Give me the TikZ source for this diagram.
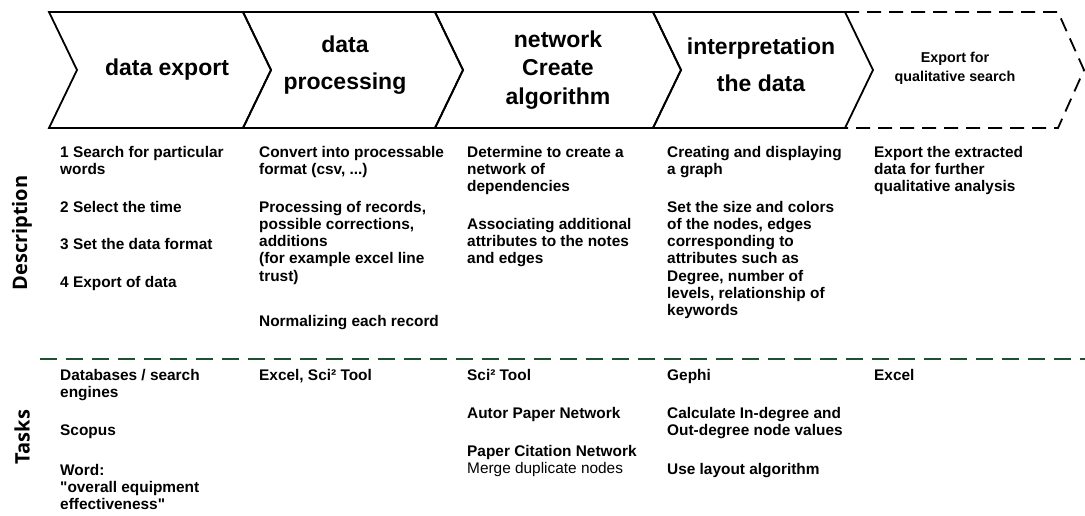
\documentclass[tikz,border=0pt]{standalone}
\usepackage{fontspec}
\setmainfont{Liberation Sans}[Ligatures=TeXOff]
\newfontfamily\sidefont{Open Sans}
\definecolor{sepgreen}{RGB}{30, 80, 50}
\usetikzlibrary{calc}
\tikzset{
    chevline/.style={line width=1.8pt, line join=miter},
    headtext/.style={align=center, inner sep=0pt,
        font=\bfseries\fontsize{23}{37}\selectfont},
    desc/.style={anchor=north west, align=left, inner sep=0pt,
        font=\bfseries\fontsize{15.4}{17.2}\selectfont},
    sidelabel/.style={rotate=90, font=\sidefont\bfseries\fontsize{20}{22}\selectfont},
    sepline/.style={sepgreen, line width=2pt, dash pattern=on 17pt off 9pt},
}

\begin{document}
\begin{tikzpicture}[x=1pt, y=-1pt]
        \useasboundingbox (0, 0) rectangle (1085, 515);

        % process chevrons
        \foreach \a/\b in {49/243, 243/435, 435/653, 653/845}
            \draw[chevline] (\a, 12) -- (\b, 12) -- (\b+28, 70) -- (\b, 128)
                -- (\a, 128) -- (\a+28, 70) -- cycle;
        \draw[chevline, dash pattern=on 14pt off 8pt] (845, 12) -- (1058, 12)
            -- (1084, 70) -- (1058, 128) -- (845, 128);

        \node[headtext] (export) at (167, 70) {data export};
        \node[headtext] (processing) at (345, 65) {data\\processing};
        \node[headtext, font=\bfseries\fontsize{23}{28.5}\selectfont]
            (network) at (558, 70) {network\\Create\\algorithm};
        \node[headtext] (interpret) at (761, 65) {interpretation\\the data};
        \node[headtext, font=\bfseries\fontsize{14.3}{19}\selectfont]
            (qualitative) at (955, 68) {Export for\\qualitative search};

        \node[sidelabel] (description) at (22, 233) {Description};
        \node[sidelabel] (tasks) at (22, 437) {Tasks};

        \coordinate (sepL) at (40, 359);
        \coordinate (sepR) at (1085, 359);
        \draw[sepline] (sepL) -- (sepR);

        \begin{scope}[every node/.style={desc}]
            % description
            \node (d11) at (60, 146) {1 Search for particular\\words};
            \node (d12) at (60, 201) {2 Select the time};
            \node (d13) at (60, 238) {3 Set the data format};
            \node (d14) at (60, 276) {4 Export of data};
            \node (d21) at (259, 146) {Convert into processable\\format (csv, ...)};
            \node (d22) at (259, 201) {Processing of records,\\possible corrections,\\
                additions\\(for example excel line\\trust)};
            \node (d23) at (259, 315) {Normalizing each record};
            \node (d31) at (467, 146) {Determine to create a\\network of\\dependencies};
            \node (d32) at (467, 218) {Associating additional\\attributes to the notes\\
                and edges};
            \node (d41) at (667, 146) {Creating and displaying\\a graph};
            \node (d42) at (667, 201) {Set the size and colors\\of the nodes, edges\\
                corresponding to\\attributes such as\\Degree, number of\\
                levels, relationship of\\keywords};
            \node (d51) at (874, 146) {Export the extracted\\data for further\\
                qualitative analysis};

            % tasks
            \node (t11) at (60, 369) {Databases / search\\engines};
            \node (t12) at (60, 425) {Scopus};
            \node (t13) at (60, 464) {Word:\\"overall equipment\\effectiveness"};
            \node (t21) at (259, 369) {Excel, Sci² Tool};
            \node (t31) at (467, 369) {Sci² Tool};
            \node (t32) at (467, 407) {Autor Paper Network};
            \node (t33) at (467, 445) {Paper Citation Network\\
                {\mdseries Merge duplicate nodes}};
            \node (t41) at (667, 369) {Gephi};
            \node (t42) at (667, 407) {Calculate In-degree and\\Out-degree node values};
            \node (t43) at (667, 463) {Use layout algorithm};
            \node (t51) at (874, 369) {Excel};
        \end{scope}
    \end{tikzpicture}
\end{document}
